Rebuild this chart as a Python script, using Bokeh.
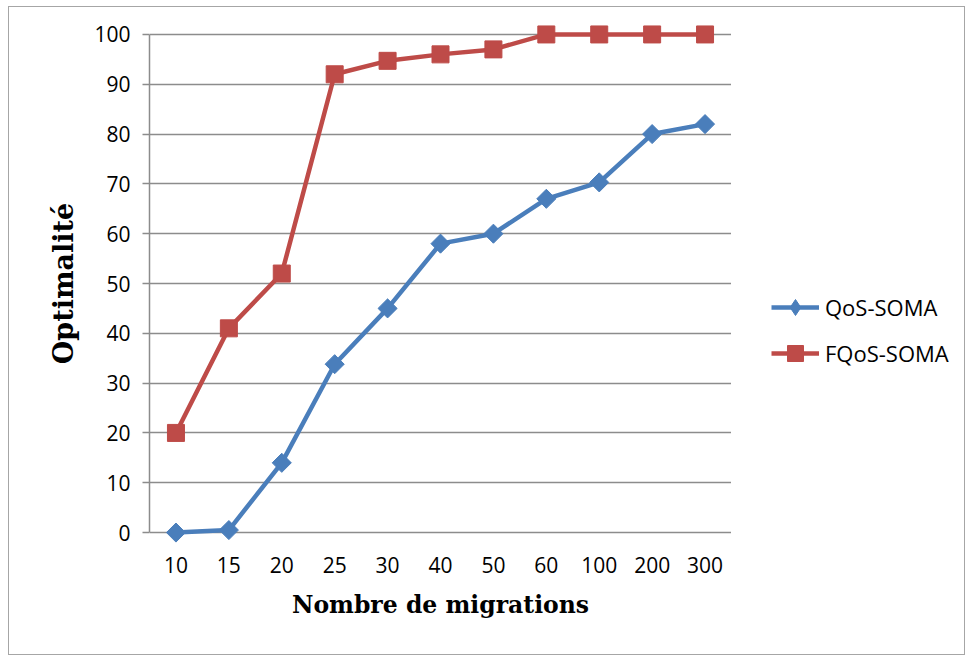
import math
from bokeh.plotting import figure
from bokeh.layouts import row
from bokeh.models import (FactorRange, Range1d, FixedTicker, Legend, LegendItem)
from bokeh.embed import file_html
from bokeh.resources import INLINE

migrations = ["10", "15", "20", "25", "30", "40", "50", "60", "100", "200", "300"]
qos_soma = [0, 0.5, 14, 33.8, 45, 58, 60, 67, 70.3, 80, 82]
fqos_soma = [20, 41, 52, 92, 94.7, 96, 97, 100, 100, 100, 100]
y_ticks = [0, 10, 20, 30, 40, 50, 60, 70, 80, 90, 100]
series_names = ["QoS-SOMA", "FQoS-SOMA"]

BLUE = "#4a7ebb"
RED = "#be4b48"
GRID = "#8c8c8c"
H = 647

p = figure(
    width=722, height=H,
    x_range=FactorRange(*migrations),
    y_range=Range1d(-3, 103),
    output_backend="svg", toolbar_location=None,
    min_border_left=140, min_border_right=0,
    min_border_top=12, min_border_bottom=107,
)
p.outline_line_color = None
p.background_fill_color = "white"

# grid
p.xgrid.grid_line_color = None
p.ygrid.ticker = FixedTicker(ticks=y_ticks)
p.ygrid.grid_line_color = GRID
p.ygrid.grid_line_width = 1.5

# y axis
p.yaxis.ticker = FixedTicker(ticks=y_ticks)
p.yaxis.bounds = (0, 100)
p.yaxis.axis_line_color = GRID
p.yaxis.axis_line_width = 1.5
p.yaxis.major_tick_line_color = GRID
p.yaxis.major_tick_line_width = 1.5
p.yaxis.major_tick_out = 7
p.yaxis.major_tick_in = 0
p.yaxis.minor_tick_line_color = None
p.yaxis.major_label_standoff = 12
p.yaxis.major_label_text_font = "Open Sans"
p.yaxis.major_label_text_font_size = "21px"
p.yaxis.major_label_text_color = "#000000"
p.yaxis.axis_label = "Optimalité"
p.yaxis.axis_label_text_font = "DejaVu Serif"
p.yaxis.axis_label_text_font_style = "bold"
p.yaxis.axis_label_text_font_size = "27px"
p.yaxis.axis_label_text_color = "#000000"
p.yaxis.axis_label_standoff = 12

# x axis
p.xaxis.axis_line_color = None
p.xaxis.major_tick_line_color = None
p.xaxis.major_tick_out = 0
p.xaxis.major_tick_in = 0
p.xaxis.major_label_standoff = 9
p.xaxis.major_label_text_font = "Open Sans"
p.xaxis.major_label_text_font_size = "21px"
p.xaxis.major_label_text_color = "#000000"
p.xaxis.axis_label = "Nombre de migrations"
p.xaxis.axis_label_text_font = "DejaVu Serif"
p.xaxis.axis_label_text_font_style = "bold"
p.xaxis.axis_label_text_font_size = "23.5px"
p.xaxis.axis_label_text_color = "#000000"
p.xaxis.axis_label_standoff = 15

# series
p.line(migrations, qos_soma, line_color=BLUE, line_width=4.5)
p.scatter(migrations, qos_soma, marker="square", size=13.5, angle=math.pi / 4,
          fill_color=BLUE, line_color=BLUE)
p.line(migrations, fqos_soma, line_color=RED, line_width=4.5)
p.scatter(migrations, fqos_soma, marker="square", size=17,
          fill_color=RED, line_color=RED)

# legend panel: a separate figure (same series, drawn out of its visible range)
q = figure(
    width=233, height=H,
    x_range=FactorRange(*migrations), y_range=Range1d(200, 300),
    x_axis_type=None, y_axis_type=None,
    output_backend="svg", toolbar_location=None,
    min_border=0,
)
q.outline_line_color = None
q.xgrid.visible = False
q.ygrid.visible = False
ql1 = q.line(migrations, qos_soma, line_color=BLUE, line_width=4.5)
qm1 = q.scatter(migrations, qos_soma, marker="diamond", size=18,
                fill_color=BLUE, line_color=BLUE)
ql2 = q.line(migrations, fqos_soma, line_color=RED, line_width=4.5)
qm2 = q.scatter(migrations, fqos_soma, marker="square", size=17,
                fill_color=RED, line_color=RED)

legend = Legend(
    items=[LegendItem(label=series_names[0], renderers=[ql1, qm1]),
           LegendItem(label=series_names[1], renderers=[ql2, qm2])],
    location=(40, 174),
    glyph_width=48, glyph_height=40, label_height=20,
    label_standoff=6, spacing=6, padding=0, margin=0,
    border_line_color=None, background_fill_alpha=0,
    label_text_font="Open Sans", label_text_font_size="22px",
    label_text_color="#000000",
)
q.add_layout(legend, "center")

layout = row(p, q, styles={"border": "1px solid #a6a6a6", "margin-left": "8px",
                           "margin-top": "6px"})

open("out.html", "w").write(file_html(layout, INLINE))
